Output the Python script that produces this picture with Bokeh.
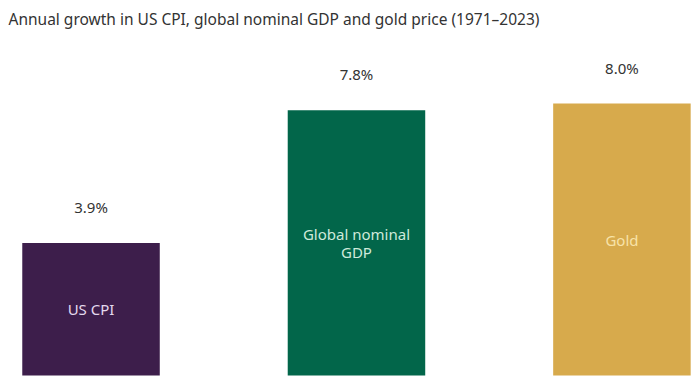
from bokeh.plotting import figure
from bokeh.models import Range1d, ColumnDataSource, Label
from bokeh.core.properties import value
from bokeh.embed import file_html
from bokeh.resources import INLINE

categories = ["US CPI", "Global nominal GDP", "Gold"]
bar_labels = ["US CPI", "Global nominal\nGDP", "Gold"]
growth = [3.9, 7.8, 8.0]
value_labels = ["3.9%", "7.8%", "8.0%"]
bar_colors = ["#3d1e4b", "#02664a", "#d7aa4c"]
inner_text_colors = ["#e4daee", "#cfeadb", "#f7e3a8"]

FONT = "Noto Sans"
xs = list(range(len(categories)))

src = ColumnDataSource(dict(
    x=xs,
    top=growth,
    mid=[g / 2 for g in growth],
    color=bar_colors,
    tcolor=inner_text_colors,
    label=bar_labels,
    vlabel=value_labels,
))

p = figure(width=700, height=389, output_backend="svg", toolbar_location=None,
           x_range=Range1d(-0.341, 2.296), y_range=Range1d(-0.412, 11.03),
           min_border=0, outline_line_color=None)
p.axis.visible = False
p.grid.visible = False
p.background_fill_color = "white"
p.border_fill_color = "white"

p.vbar(x="x", top="top", bottom=0, width=0.518, fill_color="color",
       line_color=None, source=src)

p.text(x="x", y="top", text="vlabel", y_offset=-36, text_align="center",
       text_baseline="middle", text_font=value(FONT), text_font_size="15px",
       text_color="#333333", source=src)

p.text(x="x", y="mid", text="label", text_align="center",
       text_baseline="middle", text_font=value(FONT), text_font_size="15px",
       text_color="tcolor", text_line_height=0.88, source=src)

title = Label(x=8, y=371, x_units="screen", y_units="screen",
              text="Annual growth in US CPI, global nominal GDP and gold price (1971\u20132023)",
              text_font=FONT, text_font_size="15.5px", text_color="#333333",
              text_baseline="middle", text_align="left")
p.add_layout(title)

open("out.html", "w").write(file_html(p, INLINE))
